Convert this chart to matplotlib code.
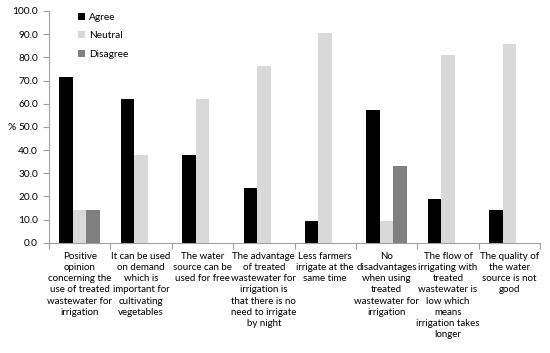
import numpy as np
import matplotlib
matplotlib.use('Agg')
import matplotlib.pyplot as plt

plt.rcParams['font.family'] = ['Lato', 'DejaVu Sans']

# categorie (etichette asse x, gia' spezzate su piu' righe)
categories = [
    'Positive\nopinion\nconcerning the\nuse of treated\nwastewater for\nirrigation',
    'It can be used\non demand\nwhich is\nimportant for\ncultivating\nvegetables',
    'The water\nsource can be\nused for free',
    'The advantage\nof treated\nwastewater for\nirrigation is\nthat there is no\nneed to irrigate\nby night',
    'Less farmers\nirrigate at the\nsame time',
    'No\ndisadvantages\nwhen using\ntreated\nwastewater for\nirrigation',
    'The flow of\nirrigating with\ntreated\nwastewater is\nlow which\nmeans\nirrigation takes\nlonger',
    'The quality of\nthe water\nsource is not\ngood',
]

agree = [71.4, 61.9, 38.1, 23.8, 9.5, 57.1, 19.0, 14.3]
neutral = [14.3, 38.1, 61.9, 76.2, 90.5, 9.5, 81.0, 85.7]
disagree = [14.3, 0.0, 0.0, 0.0, 0.0, 33.3, 0.0, 0.0]

series = [('Agree', agree, '#000000'),
          ('Neutral', neutral, '#d9d9d9'),
          ('Disagree', disagree, '#808080')]

fs = 7.0

fig = plt.figure(figsize=(5.5, 3.53), dpi=100)
ax = fig.add_axes([0.089, 0.312, 0.893, 0.657])

x = np.arange(len(categories))
w = 0.22
for i, (name, vals, col) in enumerate(series):
    ax.bar(x + (i - 1) * w, vals, w, color=col, label=name)

ax.set_xlim(-0.5, len(categories) - 0.5)
ax.set_ylim(0, 100)
ax.set_yticks(np.arange(0, 101, 10))
ax.set_yticklabels(['%.1f' % v for v in np.arange(0, 101, 10)], fontsize=7.3)
fig.text(7 / 550, 1 - 127 / 353, '%', fontsize=7.3, ha='left', va='center')

# tick tra le categorie, etichette centrate
ax.set_xticks(np.arange(-0.5, len(categories), 1))
ax.set_xticklabels([])
ax.tick_params(axis='x', length=4, color='#a0a0a0', direction='out')
ax.tick_params(axis='y', length=4, color='#a0a0a0', direction='out', pad=4)
for xi, lab in zip(x, categories):
    ax.text(xi, -4, lab, ha='center', va='top', fontsize=fs,
            linespacing=1.3, transform=ax.transData)

for s in ['top', 'right']:
    ax.spines[s].set_visible(False)
for s in ['left', 'bottom']:
    ax.spines[s].set_color('#a0a0a0')

ax.legend(loc='upper left', bbox_to_anchor=(0.04, 1.03), frameon=False,
          fontsize=7.3, handlelength=0.7, handleheight=0.7,
          labelspacing=0.9, handletextpad=0.4)

plt.savefig('out.png', dpi=100)
